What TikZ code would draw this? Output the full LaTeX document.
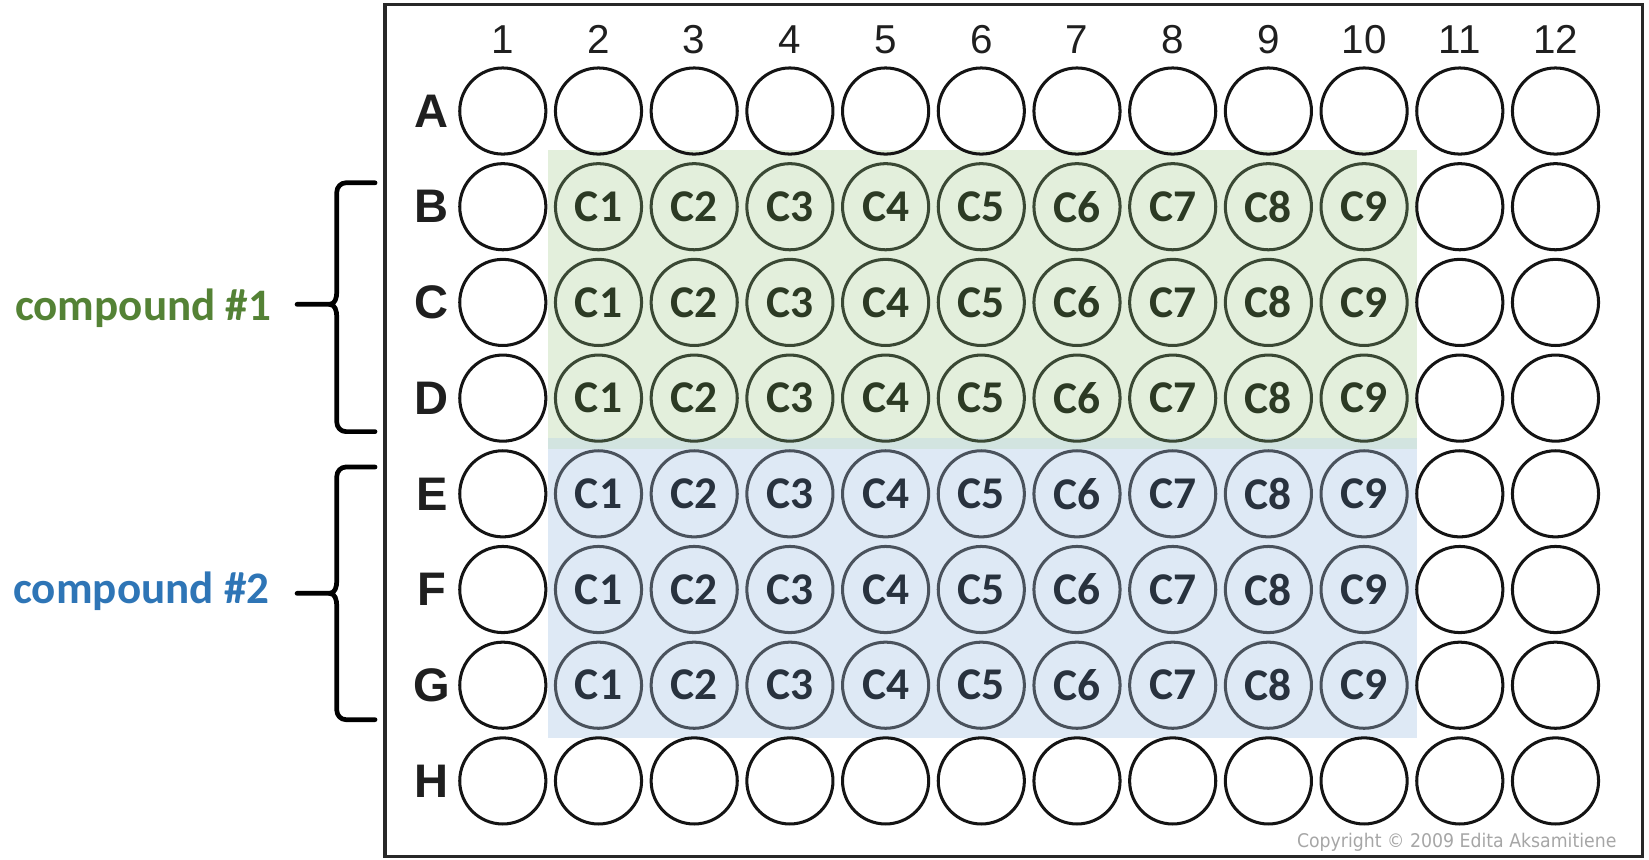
\documentclass[tikz,border=0pt]{standalone}
\usepackage{fontspec}
\setmainfont{Liberation Sans}
\newfontfamily\calfont{Carlito}
\newfontfamily\cpyfont[FakeStretch=0.92]{DejaVu Sans}
\definecolor{cmpgreen}{RGB}{84,130,53}
\definecolor{cmpblue}{RGB}{46,117,182}
\definecolor{shadegreen}{RGB}{227,239,220}
\definecolor{shadeblue}{RGB}{222,233,245}
\definecolor{shadeband}{RGB}{210,228,224}
\definecolor{wellgreen}{RGB}{58,72,52}
\definecolor{wellblue}{RGB}{74,82,92}
\definecolor{inkgreen}{RGB}{44,58,36}
\definecolor{inkblue}{RGB}{40,50,62}
\definecolor{plategray}{RGB}{40,40,40}
\usepackage{tikz}

\begin{document}
\begin{tikzpicture}[
      well/.style={circle, draw=black!92, line width=0.9pt, minimum size=0.9cm, inner sep=0pt},
      cmpa/.style={draw=wellgreen, text=inkgreen, font=\calfont\bfseries\fontsize{13.5}{14}\selectfont},
      cmpb/.style={draw=wellblue, text=inkblue, font=\calfont\bfseries\fontsize{13.5}{14}\selectfont},
      collab/.style={anchor=base, inner sep=0pt, text=black!88, font=\fontsize{12}{14}\selectfont},
      rowlab/.style={inner sep=0pt, text=black!88, font=\bfseries\fontsize{14}{16}\selectfont},
      cmpd/.style={anchor=base east, inner sep=0pt, font=\calfont\bfseries\fontsize{13.4}{15}\selectfont},
      brace/.style={line width=1.4pt, line cap=round, line join=round}
    ]
      \useasboundingbox (-4.254,0.160) rectangle (12.977,-8.816);

      % treated areas
      \fill[shadegreen] (1.469,-1.408) rectangle (10.55,-4.532);
      \fill[shadeblue] (1.469,-4.417) rectangle (10.55,-7.552);
      \fill[shadeband] (1.469,-4.417) rectangle (10.55,-4.532);

      % plate
      \draw[plategray, line width=0.9pt] (-0.231,0.108) rectangle (12.914,-8.792);

      \foreach \c in {1,...,12}
        \node[collab] (col\c) at (\c,-0.394) {\c};
      \foreach \r [count=\i] in {A,B,C,D,E,F,G,H}
        \node[rowlab] (row\r) at (0.26,-\i) {\r};

      % empty wells
      \foreach \r/\i in {A/1,H/8}
        \foreach \c in {1,...,12}
          \node[well] (\r\c) at (\c,-\i) {};
      \foreach \r/\i in {B/2,C/3,D/4,E/5,F/6,G/7}
        \foreach \c in {1,11,12}
          \node[well] (\r\c) at (\c,-\i) {};

      % dilutions
      \foreach \r/\i/\cmp in {B/2/cmpa,C/3/cmpa,D/4/cmpa,E/5/cmpb,F/6/cmpb,G/7/cmpb}
        \foreach \c [count=\k] in {2,...,10}
          \node[well, \cmp] (\r\c) at (\c,-\i) {C\k};

      % braces
      \foreach \ya/\ym/\yb in {-1.75/-3.02/-4.35, -4.72/-6.04/-7.36} {
        \draw[brace] (-0.335,\ya) -- (-0.64,\ya) to[out=180,in=90] (-0.735,\ya-0.1)
          -- (-0.735,\ym+0.13) to[out=-90,in=0] (-0.81,\ym) -- (-1.15,\ym);
        \draw[brace] (-0.81,\ym) to[out=0,in=90] (-0.735,\ym-0.13)
          -- (-0.735,\yb+0.1) to[out=-90,in=180] (-0.64,\yb) -- (-0.335,\yb);
      }
      \node[cmpd, text=cmpgreen] (cmp1) at (-1.415,-3.184) {compound \#1};
      \node[cmpd, text=cmpblue] (cmp2) at (-1.433,-6.141) {compound \#2};

      \node[anchor=base east, inner sep=0pt, text=black!35, font=\cpyfont\fontsize{5.6}{7}\selectfont]
        (copy) at (12.644,-8.691) {Copyright \textcopyright{} 2009 Edita Aksamitiene};
    \end{tikzpicture}
\end{document}
